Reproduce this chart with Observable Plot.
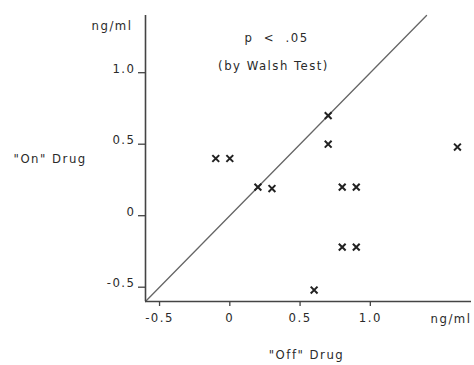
<!DOCTYPE html>
<html>
<head>
<meta charset="utf-8">
<script src="https://cdn.jsdelivr.net/npm/d3@7"></script>
<script src="https://cdn.jsdelivr.net/npm/@observablehq/plot@0.6"></script>
<style>
  html, body { margin: 0; padding: 0; background: #fff; }
  svg { display: block; }
  svg text { letter-spacing: 1.5px; }
</style>
</head>
<body>
<div id="chart"></div>
<script>
// "Off" drug vs "On" drug values (ng/ml)
const offDrug = [-0.1, 0.0, 0.2, 0.3, 0.7, 0.7, 0.8, 0.9, 0.8, 0.9, 0.6, 1.62];
const onDrug  = [0.4, 0.4, 0.2, 0.19, 0.7, 0.5, 0.2, 0.2, -0.22, -0.22, -0.52, 0.48];

const xTicks = [-0.5, 0, 0.5, 1.0];
const xTickLabels = ["-0.5", "0", "0.5", "1.0"];
const yTicks = [-0.5, 0, 0.5, 1.0];
const yTickLabels = ["-0.5", "0", "0.5", "1.0"];

const xDomain = [-0.6, 1.72];
const yDomain = [-0.6, 1.4];
const identityLine = [-0.6, 1.4];

const points = offDrug.map((x, i) => ({x, y: onDrug[i]}));
const diag = identityLine.map(v => ({x: v, y: v}));

const font = "'DejaVu Sans Condensed', 'Liberation Sans Narrow', sans-serif";
const ink = "#2a2a2a";

const chart = Plot.plot({
  width: 474,
  height: 365,
  marginLeft: 145,
  marginTop: 15,
  marginRight: 3,
  marginBottom: 64,
  style: {fontFamily: font, fontSize: "13px", color: ink, background: "#fff"},
  x: {domain: xDomain, axis: null},
  y: {domain: yDomain, axis: null},
  marks: [
    Plot.line(diag, {x: "x", y: "y", stroke: "#666", strokeWidth: 1.3}),
    Plot.ruleX([xDomain[0]], {y1: yDomain[0], y2: yDomain[1], stroke: "#444", strokeWidth: 1.6}),
    Plot.ruleY([yDomain[0]], {x1: xDomain[0], x2: xDomain[1], stroke: "#444", strokeWidth: 1.6}),
    Plot.axisX({ticks: xTicks, anchor: "bottom", tickSize: 5, tickPadding: 6,
      tickFormat: d => xTickLabels[xTicks.indexOf(d)], stroke: "#444", strokeWidth: 1.3,
      fill: ink, fontSize: 13, label: null}),
    Plot.axisY({ticks: yTicks, anchor: "left", tickSize: 7, tickFormat: () => "",
      stroke: "#444", strokeWidth: 1.3, label: null}),
    Plot.axisY({ticks: yTicks, anchor: "left", tickSize: 0, tickPadding: 10, dy: -4,
      tickFormat: d => yTickLabels[yTicks.indexOf(d)], fill: ink, fontSize: 13, label: null}),
    Plot.dot(points, {x: "x", y: "y", symbol: "times", r: 3.2, stroke: "#222", strokeWidth: 2}),
    Plot.text(["ng/ml"], {frameAnchor: "top-left", textAnchor: "end", dx: -13, dy: 5, fill: ink, fontSize: 13}),
    Plot.text(["ng/ml"], {frameAnchor: "bottom-right", textAnchor: "end", dx: 0, dy: 21, fill: ink, fontSize: 13}),
    Plot.text(["\"On\" Drug"], {frameAnchor: "left", textAnchor: "start", dx: -132, dy: 0, fill: ink, fontSize: 13}),
    Plot.text(["\"Off\" Drug"], {frameAnchor: "bottom", dx: -2, dy: 57, fill: ink, fontSize: 13}),
    Plot.text(["p  <  .05"], {frameAnchor: "top-left", textAnchor: "middle", dx: 131, dy: 17, fill: ink, fontSize: 13}),
    Plot.text(["(by Walsh Test)"], {frameAnchor: "top-left", textAnchor: "middle", dx: 128, dy: 45, fill: ink, fontSize: 13})
  ]
});
document.getElementById("chart").appendChild(chart);
</script>
</body>
</html>
